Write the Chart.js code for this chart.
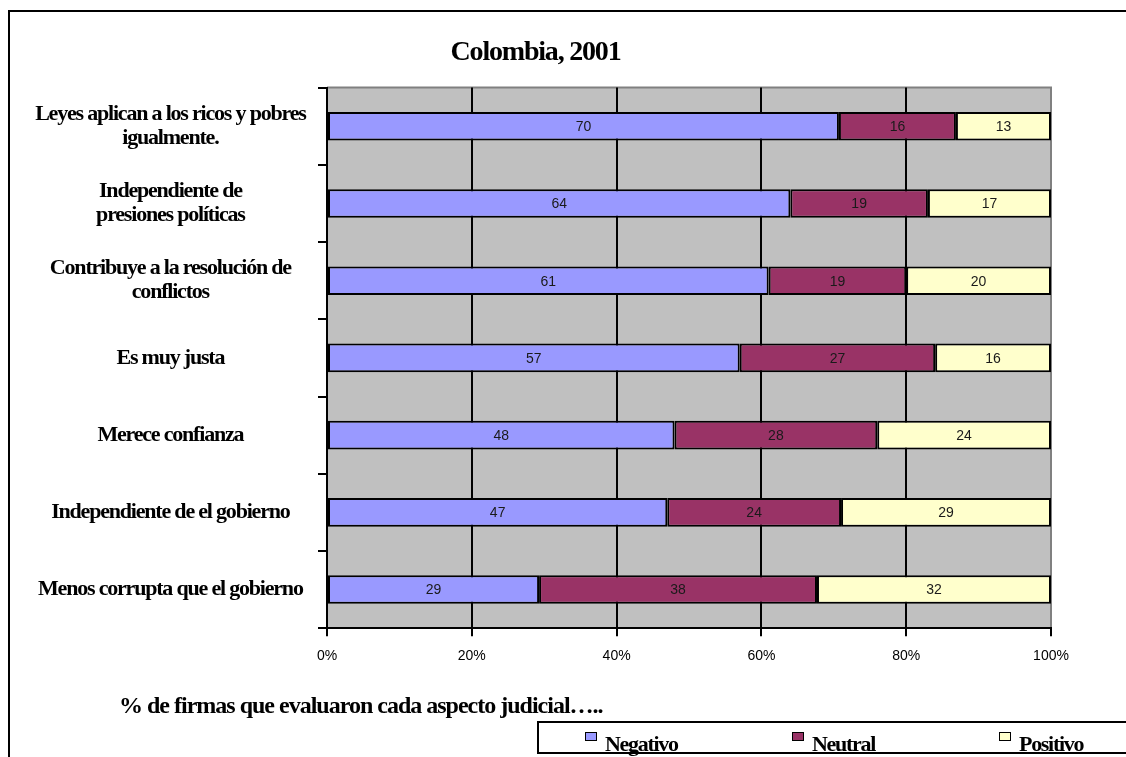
<!DOCTYPE html>
<html lang="es">
<head>
    <meta charset="UTF-8">
    <title>Colombia, 2001</title>
    <script src="https://cdn.jsdelivr.net/npm/chart.js"></script>
    <style>
        html, body { margin: 0; padding: 0; background: #fff; overflow: hidden; }
        body { width: 1126px; height: 757px; position: relative; }
        #marco {
            position: absolute; left: 8px; top: 10px;
            width: 1200px; height: 800px;
            border: 2px solid #000;
        }
        #chart-container { position: absolute; left: 0; top: 0; width: 1126px; height: 757px; }
        #subtitulo {
            position: absolute; left: 119px; top: 692px;
            font: bold 24px 'Liberation Serif', serif;
            letter-spacing: -1px; white-space: nowrap; color: #000;
        }
        #leyenda {
            position: absolute; left: 537px; top: 721px;
            width: 700px; height: 29px;
            border: 2px solid #000; background: #fff;
            display: flex; padding-left: 46px;
        }
        .item { width: 207px; display: flex; align-items: flex-start; }
        .marca { width: 10px; height: 7px; border: 1.5px solid #000; margin-top: 9px; }
        .texto {
            margin-left: 8px; margin-top: 10px;
            font: bold 22px 'Liberation Serif', serif; line-height: 1;
            letter-spacing: -1.3px; white-space: nowrap; color: #000;
        }
    </style>
</head>
<body>
    <div id="marco"></div>
    <div id="chart-container">
        <canvas id="grafico"></canvas>
    </div>
    <div id="subtitulo">% de firmas que evaluaron cada aspecto judicial…..</div>
    <div id="leyenda"></div>

    <script>
        // datos
        const categorias = [
            ['Leyes aplican a los ricos y pobres', 'igualmente.'],
            ['Independiente de', 'presiones políticas'],
            ['Contribuye a la resolución de', 'conflictos'],
            'Es muy justa',
            'Merece confianza',
            'Independiente de el gobierno',
            'Menos corrupta que el gobierno'
        ];
        const series = ['Negativo', 'Neutral', 'Positivo'];
        const negativo = [70, 64, 61, 57, 48, 47, 29];
        const neutral = [16, 19, 19, 27, 28, 24, 38];
        const positivo = [13, 17, 20, 16, 24, 29, 32];
        const ticksX = [0, 20, 40, 60, 80, 100];

        const colores = ['#9999ff', '#993366', '#ffffcc'];

        // barras al 100%: cada fila se normaliza a su total
        const totales = negativo.map((v, i) => v + neutral[i] + positivo[i]);
        const porcentaje = arr => arr.map((v, i) => v / totales[i] * 100);

        const datasets = [negativo, neutral, positivo].map((valores, i) => ({
            label: series[i],
            data: porcentaje(valores),
            valores: valores,
            backgroundColor: colores[i],
            borderColor: '#000',
            borderWidth: 2,
            borderSkipped: false,
            barPercentage: 0.37,
            categoryPercentage: 1
        }));

        const fondo = {
            id: 'fondo',
            beforeDraw(chart) {
                const { ctx, chartArea: a } = chart;
                ctx.save();
                ctx.fillStyle = '#c0c0c0';
                ctx.fillRect(a.left, a.top, a.right - a.left, a.bottom - a.top);
                ctx.strokeStyle = '#808080';
                ctx.lineWidth = 2;
                ctx.beginPath();
                ctx.moveTo(a.left, a.top);
                ctx.lineTo(a.right, a.top);
                ctx.lineTo(a.right, a.bottom);
                ctx.stroke();
                ctx.restore();
                // texto serif comprimido (titulo y etiquetas del eje y)
                ctx.letterSpacing = '-1.2px';
            },
            afterDatasetsDraw(chart) {
                const ctx = chart.ctx;
                ctx.letterSpacing = '0px';
                ctx.save();
                ctx.font = '14px "Liberation Sans", Arial, sans-serif';
                ctx.fillStyle = '#1a1a1a';
                ctx.textAlign = 'center';
                ctx.textBaseline = 'middle';
                chart.data.datasets.forEach((ds, i) => {
                    chart.getDatasetMeta(i).data.forEach((bar, j) => {
                        const p = bar.getCenterPoint();
                        ctx.fillText(ds.valores[j], p.x, p.y + 1);
                    });
                });
                ctx.restore();
            },
            afterDraw(chart) {
                chart.ctx.letterSpacing = '0px';
            }
        };

        const ctx = document.getElementById('grafico').getContext('2d');
        const grafico = new Chart(ctx, {
            type: 'bar',
            data: { labels: categorias, datasets: datasets },
            plugins: [fondo],
            options: {
                indexAxis: 'y',
                responsive: true,
                maintainAspectRatio: false,
                animation: false,
                layout: { padding: { left: 20, right: 75, top: 0, bottom: 80 } },
                plugins: {
                    legend: { display: false },
                    tooltip: { enabled: false },
                    title: {
                        display: true,
                        text: 'Colombia, 2001',
                        color: '#000',
                        font: { family: "'Liberation Serif', serif", size: 28, weight: 'bold' },
                        padding: { top: 36, bottom: 18 }
                    }
                },
                scales: {
                    x: {
                        stacked: true,
                        min: 0,
                        max: 100,
                        afterBuildTicks: s => { s.ticks = ticksX.map(v => ({ value: v })); },
                        ticks: {
                            z: 1,
                            padding: 12,
                            color: '#000',
                            font: { family: "'Liberation Sans', Arial, sans-serif", size: 14 },
                            callback: v => v + '%'
                        },
                        grid: {
                            color: c => (c.tick && c.tick.value === 100) ? '#808080' : '#000',
                            tickColor: '#000',
                            lineWidth: 2,
                            tickLength: 8
                        },
                        border: { color: '#000', width: 2 }
                    },
                    y: {
                        stacked: true,
                        afterFit: s => { s.width = 307; },
                        ticks: {
                            color: '#000',
                            crossAlign: 'center',
                            padding: -8,
                            font: { family: "'Liberation Serif', serif", size: 22, weight: 'bold', lineHeight: 1.1 }
                        },
                        grid: {
                            drawOnChartArea: false,
                            color: '#000',
                            lineWidth: 2,
                            tickLength: 9
                        },
                        border: { color: '#000', width: 2 }
                    }
                }
            }
        });

        // leyenda en HTML a partir de los datasets del grafico
        const leyenda = document.getElementById('leyenda');
        grafico.data.datasets.forEach(ds => {
            const item = document.createElement('div');
            item.className = 'item';
            const marca = document.createElement('span');
            marca.className = 'marca';
            marca.style.background = ds.backgroundColor;
            const texto = document.createElement('span');
            texto.className = 'texto';
            texto.textContent = ds.label;
            item.appendChild(marca);
            item.appendChild(texto);
            leyenda.appendChild(item);
        });
    </script>
</body>
</html>
